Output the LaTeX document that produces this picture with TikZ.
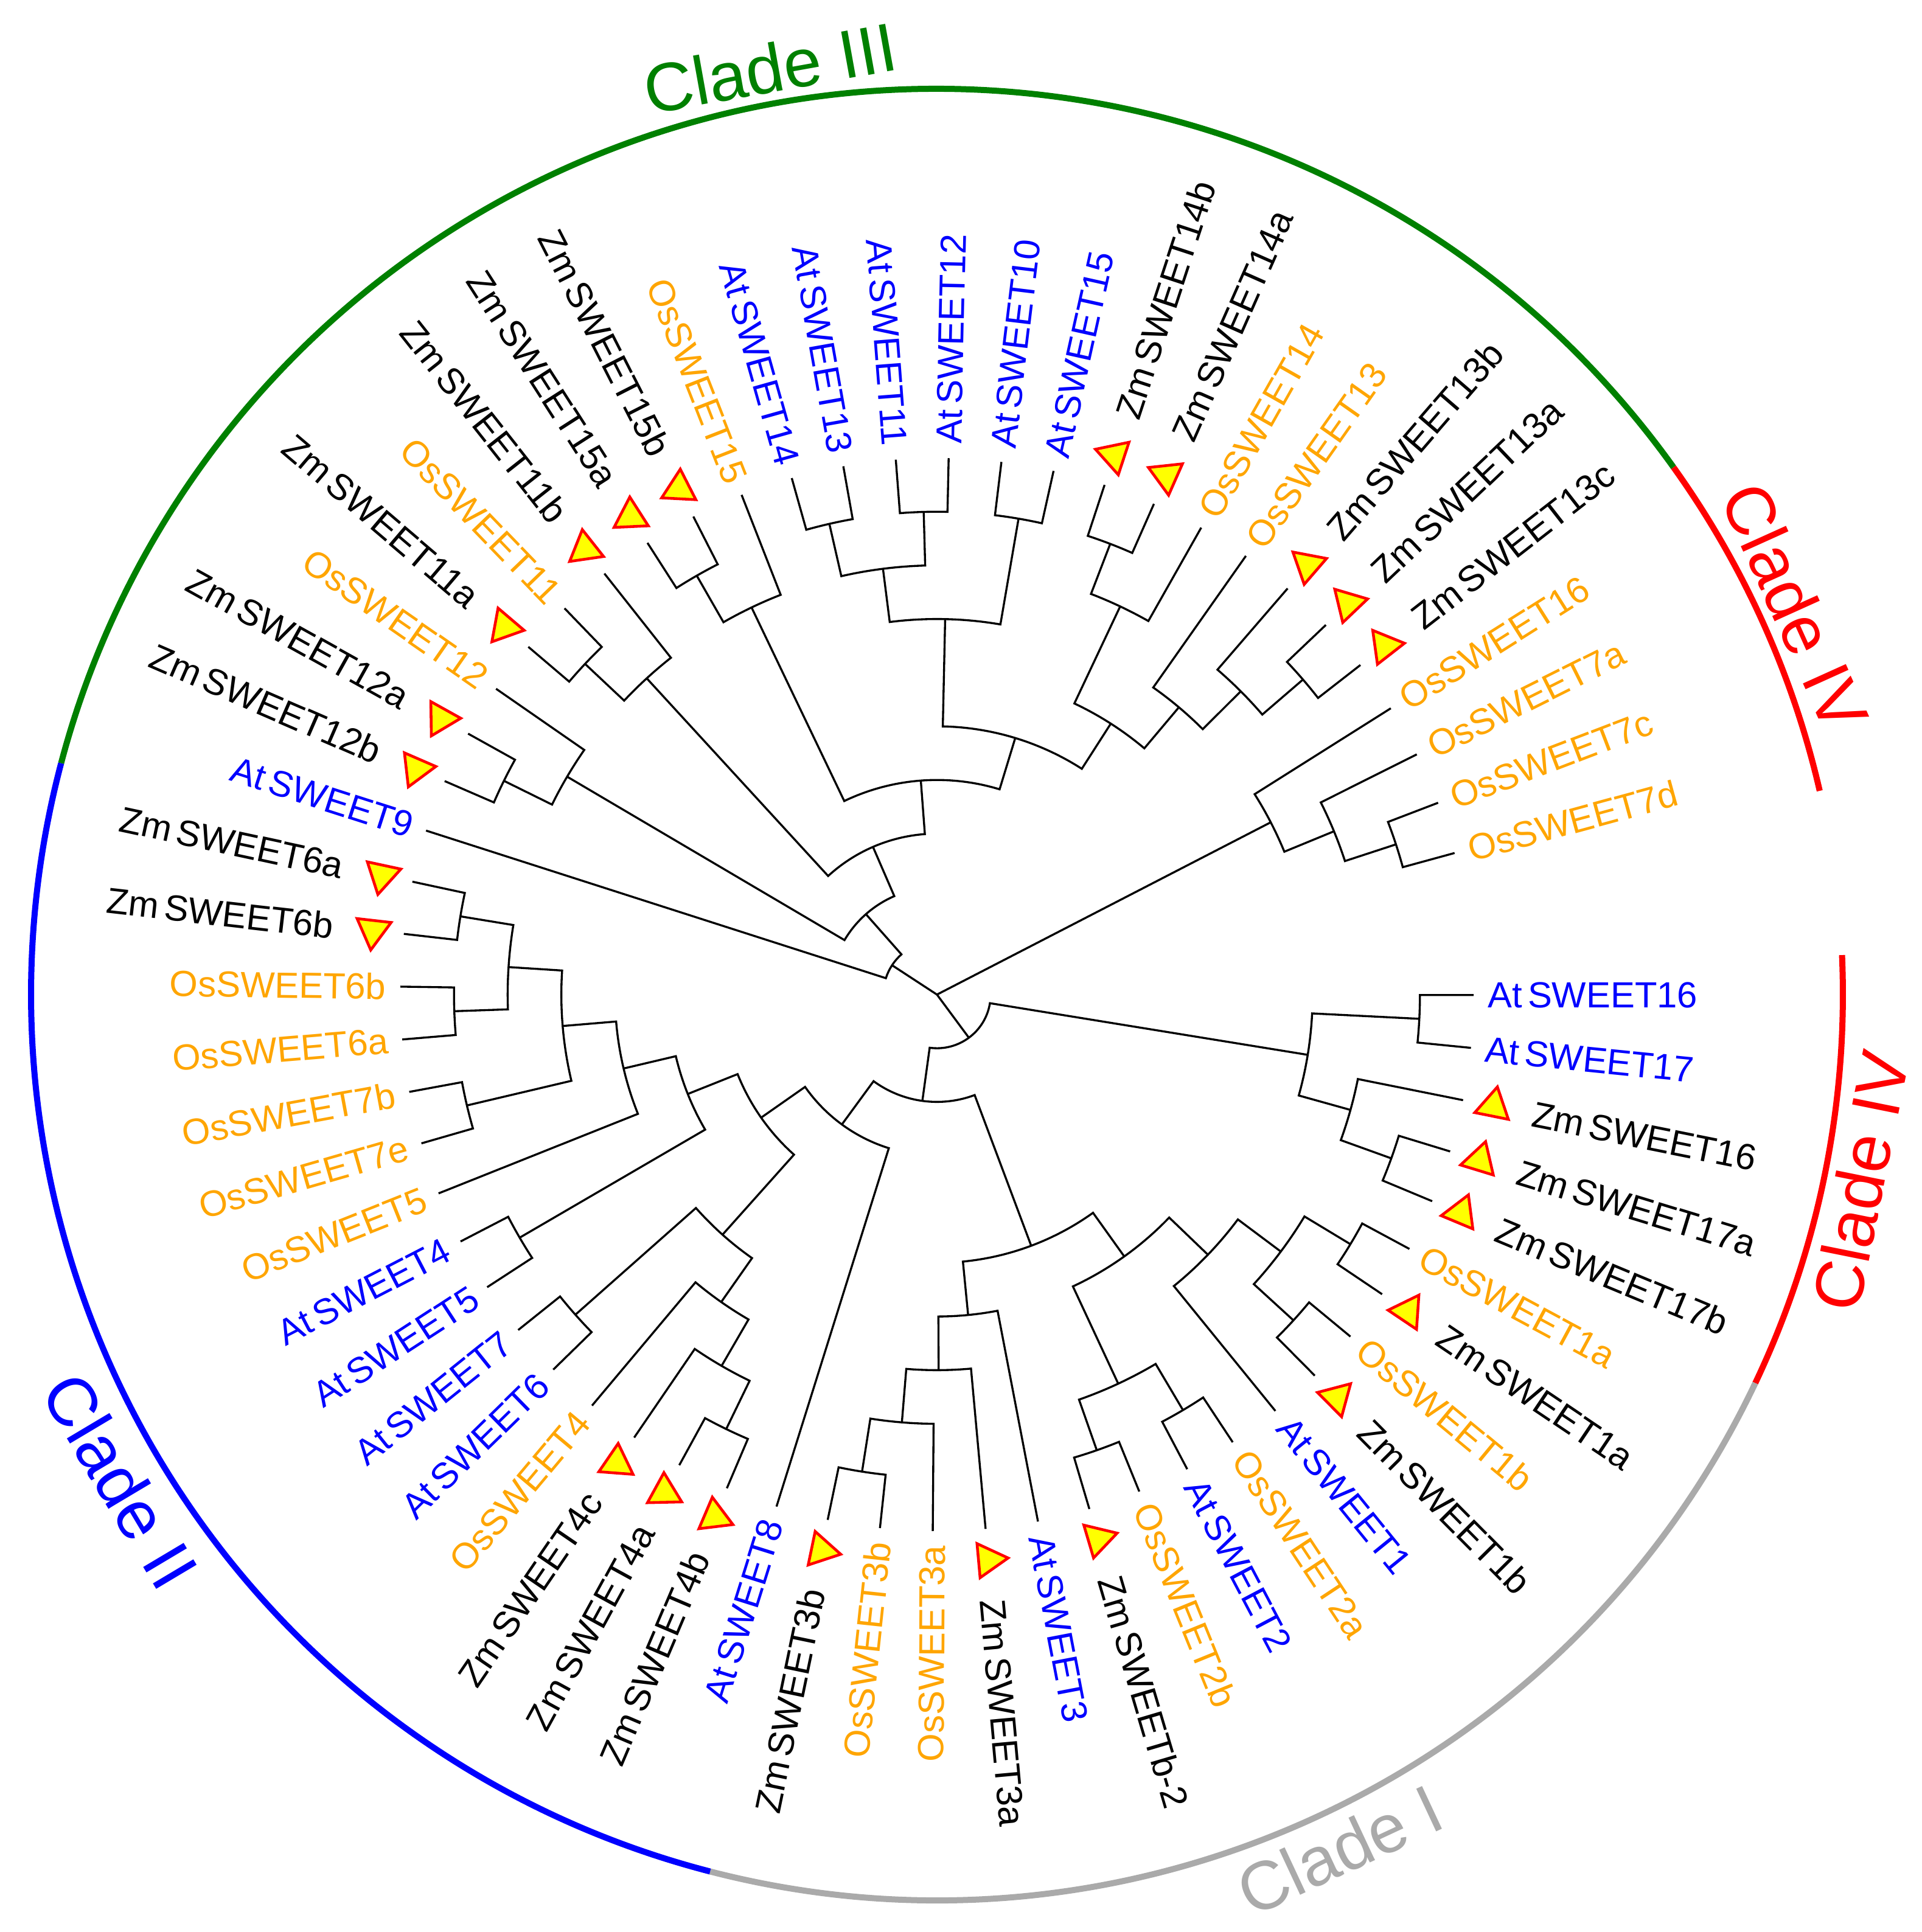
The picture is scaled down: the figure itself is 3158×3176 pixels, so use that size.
\documentclass[tikz,border=0pt]{standalone}
\usepackage{fontspec}
\setmainfont{Liberation Sans}
\usetikzlibrary{shapes.geometric}
\definecolor{osc}{RGB}{255,165,0}
\definecolor{atc}{RGB}{0,0,255}
\definecolor{cgreen}{RGB}{0,128,0}
\definecolor{cred}{RGB}{255,0,0}
\definecolor{cblue}{RGB}{0,0,255}
\definecolor{cgray}{RGB}{170,170,170}
\definecolor{tyel}{RGB}{255,255,0}

\newcommand\putang[2]{\pgfmathsetmacro\tmpang{#2}\global\expandafter\let\csname tang#1\endcsname\tmpang}
\newcommand\nodeang[1]{\csname tang#1\endcsname}
% #1 name, #2 level, #3 first child, #4 second child
\newcommand\clade[4]{%
  \putang{#1}{(\nodeang{#3}+\nodeang{#4})/2}%
  \pgfmathsetmacro\cladeR{#2*88.2}%
  \coordinate (#1) at (\nodeang{#1}:\cladeR);%
  \draw[branch] (#3) -- (\nodeang{#3}:\cladeR) arc[start angle=\nodeang{#3}, end angle=\nodeang{#4}, radius=\cladeR] -- (#4);%
}
\newcommand\placelab[4]{%
  \pgfmathsetmacro\labang{15.3+5.65*#1}%
  \pgfmathtruncatemacro\isleft{(\labang>90)&&(\labang<270)}%
  \ifnum\isleft=1
    \node[lbl,text=#3,rotate=\labang-180,anchor=east] (t#1) at (\labang:#2) {#4};%
  \else
    \node[lbl,text=#3,rotate=\labang,anchor=west] (t#1) at (\labang:#2) {#4};%
  \fi}
\newcommand\leafOs[2]{\placelab{#1}{905}{osc}{#2}}
\newcommand\leafAt[2]{\placelab{#1}{905}{atc}{At\kern.15em #2}}
\newcommand\leafZm[2]{%
  \pgfmathsetmacro\labang{15.3+5.65*#1}%
  \node[tri,rotate=\labang] (m#1) at (\labang:933) {};%
  \placelab{#1}{998}{black}{Zm\kern.15em #2}}

\begin{document}
\begin{tikzpicture}[x=0.1mm,y=0.1mm,
  branch/.style={line width=0.95pt,black},
  lbl/.style={font=\fontsize{17}{20}\selectfont,inner sep=0pt},
  tri/.style={regular polygon,regular polygon sides=3,draw=cred,fill=tyel,
    line width=1.3pt,minimum size=6.5mm,inner sep=0pt,outer sep=0pt},
  cladearc/.style={line width=1mm},
  cladelab/.style={font=\fontsize{32}{38}\selectfont,inner sep=0pt}]
\useasboundingbox (-1540,-1541) rectangle (1618,1635);

% leaves
\foreach \i in {0,...,61}{
  \putang{L\i}{15.3+5.65*\i}
  \coordinate (L\i) at ({15.3+5.65*\i}:882);
}

% Clade IV (upper)
\clade{n7cd}{9}{L1}{L0}
\clade{n7a}{8}{L2}{n7cd}
\clade{IVa}{7}{L3}{n7a}

% Clade III
\clade{z14}{9}{L9}{L10}
\clade{N14}{8}{L8}{z14}
\clade{z13ac}{9}{L4}{L5}
\clade{z13b}{8}{z13ac}{L6}
\clade{N13}{7}{z13b}{L7}
\clade{N1314}{6}{N13}{N14}
\clade{AtB}{9}{L11}{L12}
\clade{At1112}{9}{L13}{L14}
\clade{At1314}{9}{L15}{L16}
\clade{AtA}{8}{At1112}{At1314}
\clade{AtAll}{7}{AtB}{AtA}
\clade{NL5}{5}{N1314}{AtAll}
\clade{z15}{9}{L18}{L19}
\clade{N15}{8}{L17}{z15}
\clade{NL4}{4}{NL5}{N15}
\clade{o11}{9}{L21}{L22}
\clade{N11}{8}{L20}{o11}
\clade{NL3}{3}{NL4}{N11}
\clade{z12}{9}{L24}{L25}
\clade{N12}{8}{L23}{z12}
\clade{NL2}{2}{NL3}{N12}
\clade{NL}{1}{NL2}{L26}

% Clade IV (lower)
\clade{At1617}{9}{L60}{L61}
\clade{z17}{9}{L57}{L58}
\clade{z16}{8}{z17}{L59}
\clade{IVb}{7}{z16}{At1617}

% Clade II
\clade{z6}{9}{L27}{L28}
\clade{o6}{9}{L29}{L30}
\clade{N6}{8}{z6}{o6}
\clade{o7}{9}{L31}{L32}
\clade{NIId}{7}{N6}{o7}
\clade{NIIc}{6}{NIId}{L33}
\clade{At45}{9}{L34}{L35}
\clade{NIIb}{5}{NIIc}{At45}
\clade{At76}{9}{L36}{L37}
\clade{z4ab}{9}{L40}{L41}
\clade{N4c}{8}{L39}{z4ab}
\clade{N4b}{7}{L38}{N4c}
\clade{N4}{6}{At76}{N4b}
\clade{NIIa}{4}{NIIb}{N4}
\clade{NII}{3}{NIIa}{L42}

% Clade I
\clade{z3o3}{9}{L43}{L44}
\clade{A4}{8}{z3o3}{L45}
\clade{A3}{7}{A4}{L46}
\clade{A2}{6}{A3}{L47}
\clade{o2}{9}{L48}{L49}
\clade{at2}{9}{L50}{L51}
\clade{B2}{8}{o2}{at2}
\clade{z1b}{9}{L53}{L54}
\clade{z1a}{9}{L55}{L56}
\clade{B4}{8}{z1b}{z1a}
\clade{B3}{7}{L52}{B4}
\clade{B1}{6}{B2}{B3}
\clade{A1}{5}{A2}{B1}
\clade{NR2}{2}{NII}{A1}
\clade{NR}{1}{NR2}{IVb}

% root
\coordinate (root) at (0,0);
\draw[branch] (IVa) -- (root) -- (NL) (root) -- (NR);

% leaf labels
\leafOs{0}{OsSWEET7d}
\leafOs{1}{OsSWEET7c}
\leafOs{2}{OsSWEET7a}
\leafOs{3}{OsSWEET16}
\leafZm{4}{SWEET13c}
\leafZm{5}{SWEET13a}
\leafZm{6}{SWEET13b}
\leafOs{7}{OsSWEET13}
\leafOs{8}{OsSWEET14}
\leafZm{9}{SWEET14a}
\leafZm{10}{SWEET14b}
\leafAt{11}{SWEET15}
\leafAt{12}{SWEET10}
\leafAt{13}{SWEET12}
\leafAt{14}{SWEET11}
\leafAt{15}{SWEET13}
\leafAt{16}{SWEET14}
\leafOs{17}{OsSWEET15}
\leafZm{18}{SWEET15b}
\leafZm{19}{SWEET15a}
\leafZm{20}{SWEET11b}
\leafOs{21}{OsSWEET11}
\leafZm{22}{SWEET11a}
\leafOs{23}{OsSWEET12}
\leafZm{24}{SWEET12a}
\leafZm{25}{SWEET12b}
\leafAt{26}{SWEET9}
\leafZm{27}{SWEET6a}
\leafZm{28}{SWEET6b}
\leafOs{29}{OsSWEET6b}
\leafOs{30}{OsSWEET6a}
\leafOs{31}{OsSWEET7b}
\leafOs{32}{OsSWEET7e}
\leafOs{33}{OsSWEET5}
\leafAt{34}{SWEET4}
\leafAt{35}{SWEET5}
\leafAt{36}{SWEET7}
\leafAt{37}{SWEET6}
\leafOs{38}{OsSWEET4}
\leafZm{39}{SWEET4c}
\leafZm{40}{SWEET4a}
\leafZm{41}{SWEET4b}
\leafAt{42}{SWEET8}
\leafZm{43}{SWEET3b}
\leafOs{44}{OsSWEET3b}
\leafOs{45}{OsSWEET3a}
\leafZm{46}{SWEET3a}
\leafAt{47}{SWEET3}
\leafZm{48}{SWEETb-2}
\leafOs{49}{OsSWEET2b}
\leafAt{50}{SWEET2}
\leafOs{51}{OsSWEET2a}
\leafAt{52}{SWEET1}
\leafZm{53}{SWEET1b}
\leafOs{54}{OsSWEET1b}
\leafZm{55}{SWEET1a}
\leafOs{56}{OsSWEET1a}
\leafZm{57}{SWEET17b}
\leafZm{58}{SWEET17a}
\leafZm{59}{SWEET16}
\leafAt{60}{SWEET17}
\leafAt{61}{SWEET16}

% clade arcs
\draw[cladearc,cgreen] (35.6:1489) arc[start angle=35.6,end angle=165.2,radius=1489];
\draw[cladearc,cred] (13.0:1489) arc[start angle=13.0,end angle=35.6,radius=1489];
\draw[cladearc,cred] (-25.4:1489) arc[start angle=-25.4,end angle=2.5,radius=1489];
\draw[cladearc,cgray] (-104.5:1489) arc[start angle=-104.5,end angle=-25.4,radius=1489];
\draw[cladearc,cblue] (165.2:1489) arc[start angle=165.2,end angle=255.5,radius=1489];

% clade labels
\node[cladelab,text=cgreen,rotate=10.2] (c3) at (100.2:1548) {Clade III};
\node[cladelab,text=cred,rotate=-65.7] (c4a) at (24.3:1548) {Clade IV};
\node[cladelab,text=cred,rotate=78.6] (c4b) at (-11.4:1548) {Clade IV};
\node[cladelab,text=cblue,rotate=-59.2] (c2) at (210.8:1562) {Clade II};
\node[cladelab,text=cgray,rotate=25] (c1) at (-64.8:1554) {Clade I};
\end{tikzpicture}
\end{document}
